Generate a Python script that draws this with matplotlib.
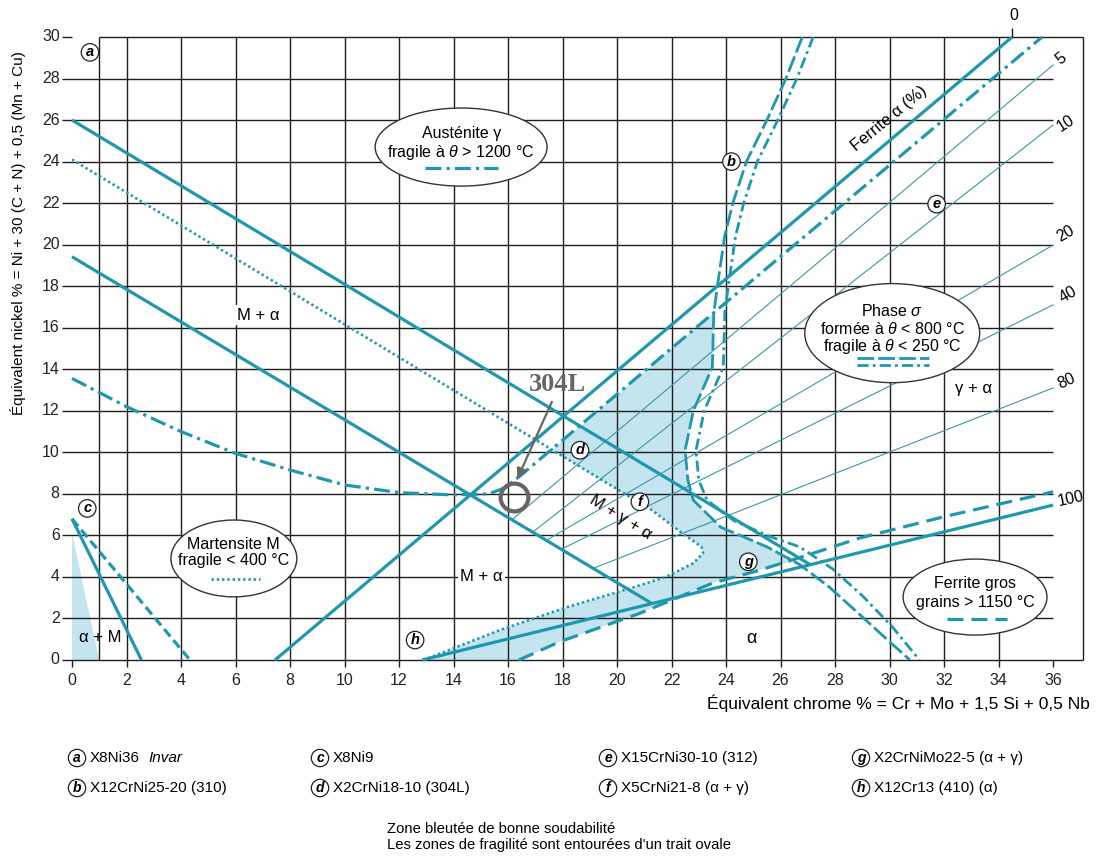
import matplotlib.pyplot as plt
from matplotlib.patches import Ellipse, Polygon
import numpy as np

plt.rcParams['font.family'] = ['Liberation Sans', 'DejaVu Sans']
plt.rcParams['mathtext.fontset'] = 'custom'
plt.rcParams['mathtext.rm'] = 'Liberation Sans'
plt.rcParams['mathtext.it'] = 'Liberation Sans:italic'

TEAL = '#1f98ae'
THIN = '#3f95a5'
GRID = '#1e1e1e'
SHADE = '#c4e4ef'
GREY = '#666666'

# --- boundary lines (Cr eq, Ni eq) ---
am_x = [0, 27.08]            # austenite / A+M
am_y = [26.0, 4.6]
mf_x = [0, 21.27]            # M / M+F
mf_y = [19.42, 2.73]
f0_x = [7.45, 34.5]          # 0 % ferrite
f0_y = [0, 30]
f100_x = [12.85, 36]         # 100 % ferrite
f100_y = [0, 7.46]

# iso-ferrite lines
ferrite_pct = ['5', '10', '20', '40', '80']
ferrite_x0 = [16.14, 16.9, 17.4, 17.95, 19.1]
ferrite_y0 = [6.75, 6.15, 5.76, 5.33, 4.4]
ferrite_y1 = [28.65, 25.76, 19.98, 17.1, 13.1]

# alloy c lines
c_solid_x, c_solid_y = [0, 2.55], [6.8, 0]
c_dash_x, c_dash_y = [0, 4.33], [6.8, 0]

# austenite hot-cracking limit (dash-dot)
gam_x = [0, 2, 4, 6, 8, 10, 12, 14, 15.3, 15.9, 16.56, 23.53, 35.6]
gam_y = [13.56, 12.2, 11.0, 9.95, 9.15, 8.43, 8.06, 7.95, 8.0, 8.3, 8.99, 16.7, 30.0]

# martensite embrittlement limit (dotted)
mart_x = [0, 21.3, 22.4, 23.1, 23.16, 22.8, 21.8, 20.6, 18.2, 15.7, 12.9]
mart_y = [24.1, 7.2, 6.1, 5.45, 5.14, 4.66, 4.0, 3.5, 2.56, 1.44, 0]

# coarse grain ferrite limit (dashed)
gros_x = [16.4, 17.9, 20.84, 23.5, 25.25, 27.2, 28.9, 32.0, 36.0]
gros_y = [0, 0.88, 2.25, 3.7, 4.33, 5.14, 5.87, 6.9, 8.1]

# sigma phase limits (double line)
sig1_x = [26.8, 26.2, 25.5, 24.75, 24.25, 23.95, 23.75, 23.55, 23.5, 22.8, 22.5, 22.6, 22.8,
          23.8, 25.5, 26.7, 27.8, 28.9, 29.9, 30.75]
sig1_y = [30, 28, 26, 24, 22, 20.4, 18.6, 16.7, 14.1, 12.0, 10.1, 8.67, 7.7,
          6.4, 5.45, 4.6, 3.5, 2.2, 1.0, 0]
sig2_x = [27.2, 26.6, 25.9, 25.15, 24.65, 24.35, 24.15, 23.96, 23.9, 23.2, 22.9, 23.0, 23.3,
          24.3, 25.6, 26.7, 27.9, 29.0, 30.1, 31.1]
sig2_y = [30, 28, 26, 24, 22, 20.4, 18.6, 16.85, 14.1, 12.0, 10.1, 8.67, 7.7,
          6.7, 5.95, 5.45, 4.4, 3.1, 1.6, 0]

# good weldability zone
zone_x = [17.6, 23.55, 23.5, 22.8, 22.5, 22.6, 22.8, 23.8, 25.5, 26.6, 25.25, 23.5, 20.84,
          17.9, 16.4, 12.9, 15.7, 18.2, 20.6, 21.8, 22.8, 23.16, 23.1, 22.4, 21.3]
zone_y = [10.1, 16.7, 14.1, 12.0, 10.1, 8.67, 7.7, 6.4, 5.45, 4.8, 4.33, 3.7, 2.25,
          0.88, 0, 0, 1.44, 2.56, 3.5, 4.0, 4.66, 5.14, 5.45, 6.1, 7.2]
tri_x = [0, 0, 1.0]
tri_y = [0, 6.1, 0]

# alloys
alloy_tag = ['a', 'b', 'c', 'd', 'e', 'f', 'g', 'h']
alloy_x = [0.66, 24.2, 0.56, 18.64, 31.73, 20.84, 24.82, 12.59]
alloy_y = [29.26, 24.0, 7.3, 10.1, 21.95, 7.62, 4.73, 0.96]
alloy_name = ['X8Ni36', 'X12CrNi25-20 (310)', 'X8Ni9', 'X2CrNi18-10 (304L)',
              'X15CrNi30-10 (312)', 'X5CrNi21-8 (α + γ)', 'X2CrNiMo22-5 (α + γ)',
              'X12Cr13 (410) (α)']

p304_x, p304_y = 16.23, 7.86

fig = plt.figure(figsize=(11.2, 8.58), dpi=100)
ax = fig.add_axes([72 / 1120, 198 / 858, 981 / 1120, 623 / 858])
ax.set_xlim(0, 36)
ax.set_ylim(0, 30)
ax.axis('off')

# grid and frame
ax.vlines([1] + list(range(2, 35, 2)), 0, 30, color=GRID, lw=1.0, zorder=1)
ax.vlines(37.1, 0, 30, color=GRID, lw=1.0, zorder=1, clip_on=False)
ax.hlines(range(2, 29, 2), -0.37, 36, color=GRID, lw=1.0, zorder=1, clip_on=False)
ax.hlines(0, -0.37, 37.1, color=GRID, lw=1.0, zorder=1, clip_on=False)
ax.hlines(30, 1, 37.1, color=GRID, lw=1.0, zorder=1, clip_on=False)
ax.hlines(30, -0.37, 0, color=GRID, lw=1.0, zorder=1, clip_on=False)
ax.vlines(range(0, 37, 2), -0.35, 0, color=GRID, lw=1.0, zorder=1, clip_on=False)
for v in range(0, 31, 2):
    ax.text(-0.45, v, str(v), ha='right', va='center', fontsize=11.5, color='#222222')
for v in range(0, 37, 2):
    ax.text(v, -1.0, str(v), ha='center', va='center', fontsize=11.5, color='#222222')

# shaded zones
ax.add_patch(Polygon(np.column_stack([zone_x, zone_y]), closed=True, fc=SHADE, ec='none', zorder=0.5))
ax.add_patch(Polygon(np.column_stack([tri_x, tri_y]), closed=True, fc=SHADE, ec='none', zorder=0.5))

# iso-ferrite thin lines
for lab, x0, y0, y1 in zip(ferrite_pct, ferrite_x0, ferrite_y0, ferrite_y1):
    ax.plot([x0, 36], [y0, y1], color=THIN, lw=0.8, zorder=2, clip_on=False)

# main lines
kw = dict(color=TEAL, lw=2.3, zorder=3, clip_on=False, solid_capstyle='butt')
ax.plot(am_x, am_y, **kw)
ax.plot(mf_x, mf_y, **kw)
ax.plot(f0_x, f0_y, **kw)
ax.plot(f100_x, f100_y, **kw)
ax.plot(c_solid_x, c_solid_y, **kw)
ax.plot(c_dash_x, c_dash_y, ls=(0, (3, 1.5)), **kw)
ax.plot(gam_x, gam_y, ls=(0, (5, 1.6, 1, 1.6)), **kw)
ax.plot(mart_x, mart_y, color=TEAL, lw=1.9, ls=(0, (0.9, 1.1)), zorder=3)
ax.plot(gros_x, gros_y, ls=(0, (5, 2.5)), **kw)
ax.plot(sig1_x, sig1_y, color=TEAL, lw=2.0, ls=(0, (6, 1.5)), zorder=3)
ax.plot(sig2_x, sig2_y, color=TEAL, lw=2.0, ls=(0, (4, 1.5, 1, 1.5)), zorder=3)

# ferrite percentage labels
ax.vlines(34.5, 30, 30.45, color=GRID, lw=1.0, clip_on=False)
ax.text(34.55, 31.05, '0', ha='center', va='center', fontsize=11.5)
lab_xy = [(36.3, 28.95, 38), (36.45, 25.85, 33), (36.45, 20.55, 30), (36.55, 17.6, 30),
          (36.5, 13.45, 25), (36.65, 7.75, 12)]
for txt, (lx, ly, rot) in zip(ferrite_pct + ['100'], lab_xy):
    ax.text(lx, ly, txt, ha='center', va='center', rotation=rot, fontsize=11.5, clip_on=False)
ax.text(30.0, 26.05, 'Ferrite α (%)', ha='center', va='center', rotation=39.5, fontsize=12)

# phase labels
white = dict(boxstyle='square,pad=0.15', fc='white', ec='none')
ax.text(6.84, 16.6, 'M + α', ha='center', va='center', fontsize=12, bbox=white, zorder=5)
ax.text(15.03, 4.0, 'M + α', ha='center', va='center', fontsize=12, bbox=white, zorder=5)
ax.text(1.03, 1.06, 'α + M', ha='center', va='center', fontsize=12, zorder=5)
ax.text(24.94, 1.04, 'α', ha='center', va='center', fontsize=13, zorder=5)
ax.text(33.08, 13.08, 'γ + α', ha='center', va='center', fontsize=12, zorder=5)
ax.text(20.15, 6.9, 'M + γ + α', ha='center', va='center', rotation=-32, fontsize=12, zorder=5)

# alloy markers
circ = dict(boxstyle='circle,pad=0.12', fc='white', ec='#222222', lw=0.9)
for t, x, y in zip(alloy_tag, alloy_x, alloy_y):
    ax.text(x, y, t, ha='center', va='center', fontsize=10.5, fontweight='bold',
            style='italic', bbox=circ, zorder=6)

# 304L point
ax.plot(p304_x, p304_y, 'o', ms=20, mfc='none', mec=GREY, mew=3, zorder=7)
ax.annotate('', xy=(16.3, 8.6), xytext=(17.65, 12.55),
            arrowprops=dict(arrowstyle='-|>', color=GREY, lw=1.6, mutation_scale=15), zorder=7)
ax.text(17.8, 13.25, '304L', ha='center', va='center', fontsize=19, color=GREY,
        family='Liberation Serif', fontweight='bold', zorder=7)

# fragility ellipses
def oval(cx, cy, w, h, lines, ys):
    ax.add_patch(Ellipse((cx, cy), w, h, fc='white', ec='#333333', lw=1.0, zorder=4))
    for s, y in zip(lines, ys):
        ax.text(cx, y, s, ha='center', va='center', fontsize=11.5, zorder=5)

oval(14.28, 24.7, 6.31, 3.76, ['Austénite γ', r'fragile à $\theta$ > 1200 °C'], [25.33, 24.46])
ax.plot([12.95, 15.63], [23.69, 23.69], color=TEAL, lw=2.3, ls=(0, (5, 1.6, 1, 1.6)), zorder=5)

oval(5.94, 4.89, 4.62, 3.7, ['Martensite M', 'fragile < 400 °C'], [5.54, 4.77])
ax.plot([5.1, 6.9], [3.9, 3.9], color=TEAL, lw=1.9, ls=(0, (0.9, 1.1)), zorder=5)

oval(30.1, 15.74, 6.42, 4.77, ['Phase $\\sigma$', r'formée à $\theta$ < 800 °C',
                               r'fragile à $\theta$ < 250 °C'], [16.8, 15.94, 15.12])
ax.plot([28.8, 31.45], [14.55, 14.55], color=TEAL, lw=2.0, ls=(0, (6, 1.5)), zorder=5)
ax.plot([28.8, 31.45], [14.2, 14.2], color=TEAL, lw=2.0, ls=(0, (4, 1.5, 1, 1.5)), zorder=5)

oval(33.14, 3.03, 5.28, 3.66, ['Ferrite gros', 'grains > 1150 °C'], [3.66, 2.79])
ax.plot([32.1, 34.3], [1.97, 1.97], color=TEAL, lw=2.3, ls=(0, (5, 2.5)), zorder=5)

# axis titles
fig.text(18 / 1120, 1 - 233 / 858, 'Équivalent nickel % = Ni + 30 (C + N) + 0,5 (Mn + Cu)',
         rotation=90, ha='center', va='center', fontsize=11)
fig.text(1090 / 1120, 1 - 703 / 858, 'Équivalent chrome % = Cr + Mo + 1,5 Si + 0,5 Nb',
         ha='right', va='center', fontsize=12.5)

# alloy key
col_px = [77, 320, 608, 861]
row_px = [758, 788]
order = [0, 2, 4, 6, 1, 3, 5, 7]
for k, i in enumerate(order):
    px = col_px[k % 4]
    py = row_px[k // 4]
    fig.text(px / 1120, 1 - py / 858, alloy_tag[i], ha='center', va='center', fontsize=10,
             fontweight='bold', style='italic', bbox=circ)
    fig.text((px + 13) / 1120, 1 - py / 858, alloy_name[i], ha='left', va='center',
             fontsize=11)
fig.text(148 / 1120, 1 - 758 / 858, 'Invar', ha='left', va='center', fontsize=11,
         style='italic')

fig.text(387 / 1120, 1 - 829 / 858, 'Zone bleutée de bonne soudabilité', ha='left',
         va='center', fontsize=10.7)
fig.text(387 / 1120, 1 - 845 / 858, "Les zones de fragilité sont entourées d'un trait ovale",
         ha='left', va='center', fontsize=10.7)

fig.savefig('out.png', dpi=100)
